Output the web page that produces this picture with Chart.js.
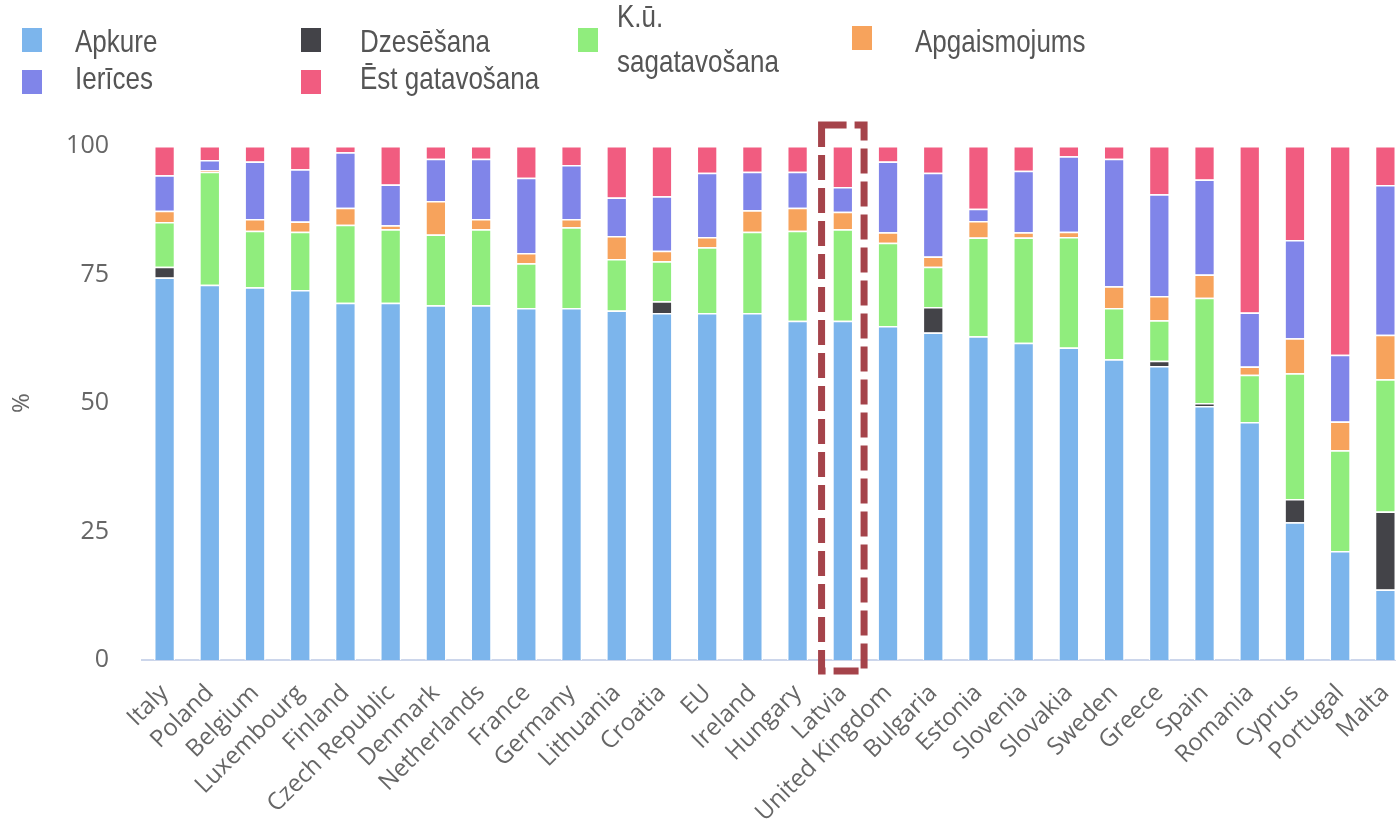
<!DOCTYPE html>
<html>
<head>
<meta charset="utf-8">
<script src="https://cdn.jsdelivr.net/npm/chart.js@4/dist/chart.umd.min.js"></script>
<style>
  html, body { margin: 0; padding: 0; background: #fff; overflow: hidden; }
  #wrap { position: relative; width: 1396px; height: 827px; overflow: hidden; }
  #box { position: absolute; left: 0; top: 0; width: 1408px; height: 827px; }
  .lg { position: absolute; font-family: "Liberation Sans", Arial, sans-serif; font-size: 26px; color: #555;
        transform: scaleY(1.18); transform-origin: left top; white-space: nowrap; line-height: 38px; }
  .sw { position: absolute; width: 20px; height: 24px; }
</style>
</head>
<body>
<div id="wrap">
  <div id="box"><canvas id="energyChart"></canvas></div>
  <div id="legend"></div>
</div>
<script>
const categories = ['Italy', 'Poland', 'Belgium', 'Luxembourg', 'Finland', 'Czech Republic', 'Denmark',
  'Netherlands', 'France', 'Germany', 'Lithuania', 'Croatia', 'EU', 'Ireland', 'Hungary', 'Latvia',
  'United Kingdom', 'Bulgaria', 'Estonia', 'Slovenia', 'Slovakia', 'Sweden', 'Greece', 'Spain',
  'Romania', 'Cyprus', 'Portugal', 'Malta'];

const apkure = [74.4, 73, 72.5, 72, 69.5, 69.5, 69, 69, 68.5, 68.5, 68, 67.5, 67.5, 67.5, 66, 66,
  65, 63.7, 63, 61.7, 60.8, 58.5, 57.2, 49.4, 46.3, 26.8, 21.2, 13.7];
const dzesesana = [2.1, 0, 0, 0, 0, 0, 0, 0, 0, 0, 0, 2.3, 0, 0, 0, 0,
  0, 5, 0, 0, 0, 0, 1, 0.6, 0, 4.5, 0, 15.2];
const kuSagatavosana = [8.7, 22, 11, 11.3, 15.2, 14.3, 13.8, 14.8, 8.7, 15.7, 10, 7.8, 12.8, 15.8, 17.5, 17.8,
  16.2, 7.8, 19.2, 20.5, 21.5, 10, 7.9, 20.5, 9.2, 24.5, 19.6, 25.7];
const apgaismojums = [2.2, 0.3, 2.3, 2, 3.3, 0.8, 6.5, 2, 2, 1.6, 4.5, 2, 2, 4.2, 4.5, 3.4,
  2, 2, 3.2, 1, 1, 4.2, 4.7, 4.5, 1.6, 6.8, 5.6, 8.7];
const ierices = [6.9, 2, 11.2, 10.2, 10.8, 7.9, 8.2, 11.7, 14.6, 10.5, 7.5, 10.6, 12.5, 7.5, 7, 4.8,
  13.8, 16.3, 2.4, 12, 14.7, 24.8, 19.8, 18.5, 10.5, 19.1, 13, 29.1];
const estGatavosana = [5.7, 2.7, 3, 4.5, 1.2, 7.5, 2.5, 2.5, 6.2, 3.7, 10, 9.8, 5.2, 5, 5, 8,
  3, 5.2, 12.2, 4.8, 2, 2.5, 9.4, 6.5, 32.4, 18.3, 40.6, 7.6];

const yTicks = [0, 25, 50, 75, 100];
const highlighted = 'Latvia';

const series = [
  { label: 'Apkure', data: apkure, color: '#7cb5ec' },
  { label: 'Dzesēšana', data: dzesesana, color: '#434348' },
  { label: 'K.ū. sagatavošana', data: kuSagatavosana, color: '#90ed7d' },
  { label: 'Apgaismojums', data: apgaismojums, color: '#f7a35c' },
  { label: 'Ierīces', data: ierices, color: '#8085e9' },
  { label: 'Ēst gatavošana', data: estGatavosana, color: '#f15c80' }
];

// legend drawn as html, laid out in columns
const legendItems = [
  { idx: 0, x: 22, y: 28, tx: 75, ty: 19, text: 'Apkure' },
  { idx: 4, x: 22, y: 70, tx: 75, ty: 56, text: 'Ierīces' },
  { idx: 1, x: 301, y: 28, tx: 360, ty: 19, text: 'Dzesēšana' },
  { idx: 5, x: 301, y: 70, tx: 360, ty: 56, text: 'Ēst gatavošana' },
  { idx: 2, x: 578, y: 28, tx: 617, ty: -6, text: 'K.ū.<br>sagatavošana' },
  { idx: 3, x: 852, y: 26, tx: 915, ty: 19, text: 'Apgaismojums' }
];
const legendEl = document.getElementById('legend');
legendItems.forEach(item => {
  const sw = document.createElement('div');
  sw.className = 'sw';
  sw.style.left = item.x + 'px';
  sw.style.top = item.y + 'px';
  sw.style.background = series[item.idx].color;
  legendEl.appendChild(sw);
  const tx = document.createElement('div');
  tx.className = 'lg';
  tx.style.left = item.tx + 'px';
  tx.style.top = item.ty + 'px';
  tx.innerHTML = item.text;
  legendEl.appendChild(tx);
});

// dashed frame around the highlighted category
const highlightBox = {
  id: 'highlightBox',
  afterDatasetsDraw(chart) {
    const x = chart.scales.x;
    const i = categories.indexOf(highlighted);
    const cx = x.getPixelForValue(i);
    const half = (x.getPixelForValue(1) - x.getPixelForValue(0)) * 0.47;
    const ctx = chart.ctx;
    ctx.save();
    ctx.strokeStyle = '#a5434a';
    ctx.lineWidth = 7;
    ctx.setLineDash([25, 8]);
    const top = chart.chartArea.top - 21;
    const bottom = chart.chartArea.bottom + 11;
    ctx.strokeRect(cx - half, top, half * 2, bottom - top);
    ctx.restore();
  }
};

const ctx = document.getElementById('energyChart').getContext('2d');
new Chart(ctx, {
  type: 'bar',
  data: {
    labels: categories,
    datasets: series.map(s => ({
      label: s.label,
      data: s.data,
      backgroundColor: s.color,
      borderColor: 'rgba(255,255,255,0.9)',
      borderWidth: 1.5,
      categoryPercentage: 1,
      barPercentage: 0.47
    }))
  },
  options: {
    responsive: true,
    maintainAspectRatio: false,
    animation: false,
    layout: { padding: { top: 146, left: 0, right: 0, bottom: 0 } },
    plugins: {
      legend: { display: false },
      tooltip: { enabled: false }
    },
    scales: {
      x: {
        stacked: true,
        grid: { display: false, drawTicks: false },
        border: { display: true, color: '#ccd6eb', width: 2 },
        ticks: {
          autoSkip: false,
          minRotation: 45,
          maxRotation: 45,
          padding: 19,
          color: '#666',
          font: { family: 'Open Sans', size: 24 }
        },
        afterFit(scale) {
          scale.height = 167;
          scale.paddingLeft = 0;
          scale.paddingRight = 0;
        }
      },
      y: {
        stacked: true,
        min: 0,
        max: 100,
        afterBuildTicks(scale) {
          scale.ticks = yTicks.map(v => ({ value: v }));
        },
        grid: { display: false, drawTicks: false },
        border: { display: false },
        ticks: {
          padding: 33,
          color: '#666',
          font: { family: 'Open Sans', size: 25 }
        },
        title: {
          display: true,
          text: '%',
          color: '#666',
          padding: { top: 8, bottom: 0 },
          font: { family: 'Open Sans', size: 24 }
        },
        afterFit(scale) {
          scale.width = 142;
          scale.paddingTop = 0;
          scale.paddingBottom = 0;
        }
      }
    }
  },
  plugins: [highlightBox]
});
</script>
</body>
</html>
